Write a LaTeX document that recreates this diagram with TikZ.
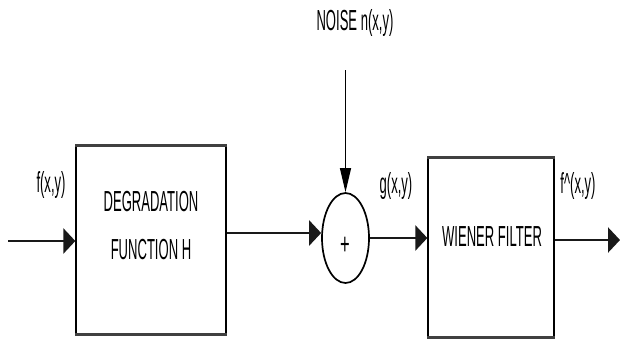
\documentclass[tikz,border=0pt]{standalone}
\usepackage{fontspec}
\setmainfont{Liberation Sans}
\usetikzlibrary{arrows.meta,shapes.geometric}
\newcommand{\sqz}[1]{\scalebox{0.45}[1]{#1}}
\tikzset{
  lbl/.style={font=\fontsize{29}{30}\selectfont, inner sep=0pt, text=black},
  blockbox/.style={draw, line width=1.3pt, inner sep=0pt},
  edgebar/.style={line width=3pt, black!75},
  hline/.style={line width=2.6pt, black!90, -{Triangle[length=12pt,width=25pt]}},
  vline/.style={line width=1.2pt, -{Triangle[length=24pt,width=11pt]}},
}
\begin{document}
\begin{tikzpicture}[x=1pt,y=-1pt]
\useasboundingbox (0,0) rectangle (620,341);
% blocks
\node[blockbox, minimum width=150pt, minimum height=188pt] (b1) at (151,240) {};
\node[blockbox, minimum width=126pt, minimum height=179pt] (b2) at (491,247.5) {};
\draw[edgebar] (b1.north west) -- (b1.north east);
\draw[edgebar] (b1.south west) -- (b1.south east);
\draw[edgebar] (b2.north west) -- (b2.north east);
\draw[edgebar] (b2.south west) -- (b2.south east);
\node[ellipse, draw, line width=1.7pt, minimum width=47pt, minimum height=90pt, inner sep=0pt] (sum) at (345.5,238) {};
% texts
\node[lbl] (t1) at (151,202) {\sqz{DEGRADATION}};
\node[lbl] (t2) at (151,250) {\sqz{FUNCTION H}};
\node[lbl] (t3) at (492,237) {\sqz{WIENER FILTER}};
\node[lbl] (plus) at (345,246) {\scalebox{0.55}[1]{\fontsize{30}{30}\selectfont +}};
\node[lbl] (noise) at (355,23) {\sqz{NOISE n(x,y)}};
\node[lbl] (fxy) at (51,185) {\sqz{f(x,y)}};
\node[lbl] (gxy) at (396,186) {\sqz{g(x,y)}};
\node[lbl] (fhat) at (578,186) {\sqz{f\textasciicircum(x,y)}};
% coordinates
\coordinate (in) at (8,241);
\coordinate (out) at (620,240);
\coordinate (l1) at (0,233);
\coordinate (nstart) at (345.5,70);
% connectors
\draw[hline] (in) -- (b1.west |- in);
\draw[hline] (b1.east |- l1) -- (sum.west |- l1);
\draw[hline] (sum.east) -- (b2.west |- sum.east);
\draw[hline] (b2.east |- out) -- (out);
\draw[vline] (nstart) -- (sum.north);
\end{tikzpicture}
\end{document}
